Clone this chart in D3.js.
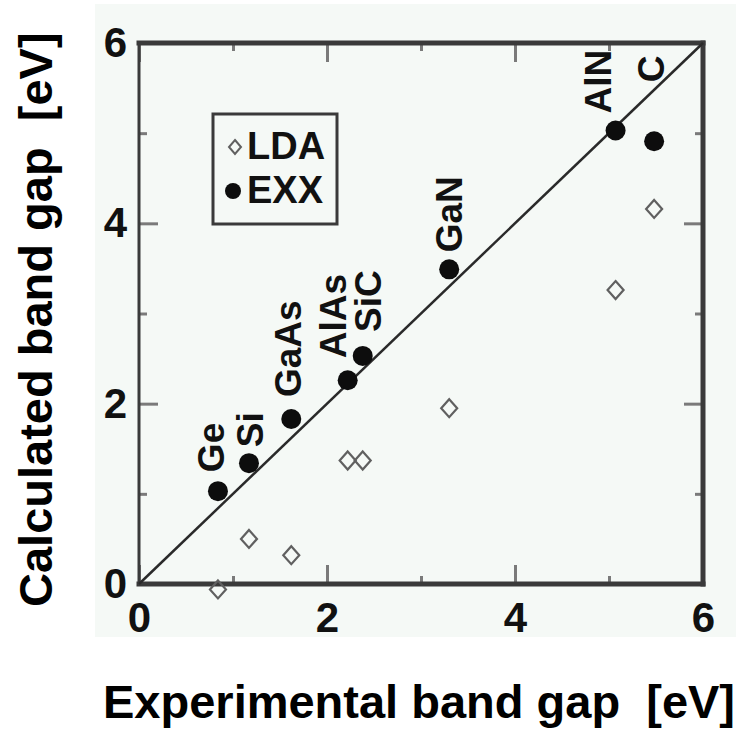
<!DOCTYPE html>
<html>
<head>
<meta charset="utf-8">
<script src="https://cdn.jsdelivr.net/npm/d3@7"></script>
<style>
  html, body { margin: 0; padding: 0; background: #fff; }
  text { font-family: "Liberation Sans", Arial, Helvetica, sans-serif; font-weight: bold; white-space: pre; }
</style>
</head>
<body>
<div id="visualization"></div>
<script>
/*************************************/
/* Data                              */
/*************************************/

const materials    = ['Ge', 'Si', 'GaAs', 'AlAs', 'SiC', 'GaN', 'AlN', 'C'];
const experimental = [0.84, 1.17, 1.62, 2.22, 2.38, 3.30, 5.07, 5.48];
const ldaGap       = [-0.06, 0.50, 0.32, 1.37, 1.37, 1.95, 3.26, 4.16];
const exxGap       = [1.03, 1.34, 1.83, 2.26, 2.53, 3.49, 5.03, 4.91];

const majorTicks = [0, 2, 4, 6];
const minorTicks = [1, 3, 5];
const legendItems = ['LDA', 'EXX'];


/*************************************/
/* Initialize variables              */
/*************************************/

const width = 736;
const height = 729;
const bg = '#f5f9f6';
const frameColor = '#3a3a3a';
const tickColor = '#7a7a7a';

// label nudges in px: [dx, gap above point]
const labelNudge = {
  Ge: [-7, 19], Si: [1, 16], GaAs: [-4, 22], AlAs: [-15, 22],
  SiC: [5, 24], GaN: [-1, 17], AlN: [-18, 17], C: [-3, 59]
};

const x = d3.scaleLinear().domain([0, 6]).range([139, 703]);
const y = d3.scaleLinear().domain([0, 6]).range([584, 43]);

// hollow diamond, a little taller than wide
const diamond = (hw, hh) => ({
  draw(ctx) {
    ctx.moveTo(0, -hh);
    ctx.lineTo(hw, 0);
    ctx.lineTo(0, hh);
    ctx.lineTo(-hw, 0);
    ctx.closePath();
  }
});

const points = materials.map((m, i) => ({
  name: m, exp: experimental[i], lda: ldaGap[i], exx: exxGap[i]
}));


/*************************************/
/* Create and append visualization   */
/*************************************/

const svg = d3.select('#visualization')
  .append('svg')
  .attr('width', width)
  .attr('height', height)
  .attr('viewBox', [0, 0, width, height]);

// plot background
svg.append('rect')
  .attr('x', 95).attr('y', 4)
  .attr('width', width - 95).attr('height', 633)
  .attr('fill', bg);

// axes: major + minor, inward ticks
const styleAxis = g => {
  g.select('.domain').remove();
  g.selectAll('.tick line').attr('stroke', tickColor).attr('stroke-width', 3);
  g.selectAll('.tick text')
    .attr('fill', '#111')
    .style('font-size', '42px');
};

const axes = [
  [d3.axisBottom(x), `translate(0,${y(0)})`, true, 18],
  [d3.axisTop(x), `translate(0,${y(6)})`, false, 0],
  [d3.axisLeft(y), `translate(${x(0)},0)`, true, 12],
  [d3.axisRight(y), `translate(${x(6)},0)`, false, 0]
];

axes.forEach(([axis, tr, labelled, pad]) => {
  svg.append('g')
    .attr('transform', tr)
    .call(axis.tickValues(majorTicks).tickSizeInner(-19).tickSizeOuter(0)
      .tickPadding(pad)
      .tickFormat(labelled ? d3.format('d') : ''))
    .call(styleAxis);

  svg.append('g')
    .attr('transform', tr)
    .call(axis.tickValues(minorTicks).tickSizeInner(-8).tickSizeOuter(0).tickFormat(''))
    .call(styleAxis);
});

// frame
const frame = svg.append('g').attr('stroke', frameColor).attr('stroke-linecap', 'square');
frame.append('line').attr('x1', x(0)).attr('x2', x(6)).attr('y1', y(0)).attr('y2', y(0)).attr('stroke-width', 5);
frame.append('line').attr('x1', x(0)).attr('x2', x(6)).attr('y1', y(6)).attr('y2', y(6)).attr('stroke-width', 5);
frame.append('line').attr('x1', x(6)).attr('x2', x(6)).attr('y1', y(0)).attr('y2', y(6)).attr('stroke-width', 5);
frame.append('line').attr('x1', x(0)).attr('x2', x(0)).attr('y1', y(0)).attr('y2', y(6)).attr('stroke-width', 3);

// diagonal y = x
svg.append('line')
  .attr('x1', x(0)).attr('y1', y(0))
  .attr('x2', x(6)).attr('y2', y(6))
  .attr('stroke', '#2a2a2a')
  .attr('stroke-width', 2.5);

// LDA diamonds
svg.append('g')
  .selectAll('path')
  .data(points)
  .join('path')
    .attr('transform', d => `translate(${x(d.exp)},${y(d.lda)})`)
    .attr('d', d3.symbol().type(diamond(8, 9))())
    .attr('fill', 'none')
    .attr('stroke', '#606060')
    .attr('stroke-width', 2.2);

// EXX dots
svg.append('g')
  .selectAll('circle')
  .data(points)
  .join('circle')
    .attr('cx', d => x(d.exp))
    .attr('cy', d => y(d.exx))
    .attr('r', 10)
    .attr('fill', '#0d0d0d');

// material labels, rotated
svg.append('g')
  .selectAll('text')
  .data(points)
  .join('text')
    .attr('transform', d => {
      const [dx, gap] = labelNudge[d.name];
      return `translate(${x(d.exp) + dx},${y(d.exx) - gap}) rotate(-90)`;
    })
    .attr('dy', '0.36em')
    .attr('fill', '#111')
    .style('font-size', '37px')
    .text(d => d.name);

// legend
const legend = svg.append('g');
legend.append('rect')
  .attr('x', 213).attr('y', 114)
  .attr('width', 124).attr('height', 110)
  .attr('fill', bg)
  .attr('stroke', frameColor)
  .attr('stroke-width', 3);

legendItems.forEach((name, i) => {
  const cy = 147 + i * 44;
  if (name === 'LDA') {
    legend.append('path')
      .attr('transform', `translate(235,${cy})`)
      .attr('d', d3.symbol().type(diamond(6, 7))())
      .attr('fill', 'none')
      .attr('stroke', '#606060')
      .attr('stroke-width', 2);
  } else {
    legend.append('circle')
      .attr('cx', 233).attr('cy', cy)
      .attr('r', 8)
      .attr('fill', '#0d0d0d');
  }
  legend.append('text')
    .attr('x', 247).attr('y', cy + 12)
    .attr('fill', '#111')
    .style('font-size', '38px')
    .text(name);
});

// axis titles
svg.append('text')
  .attr('x', 103).attr('y', 718)
  .attr('fill', '#000')
  .style('font-size', '47px')
  .text('Experimental band gap  [eV]');

svg.append('text')
  .attr('transform', 'translate(52,607) rotate(-90)')
  .attr('fill', '#000')
  .style('font-size', '47px')
  .text('Calculated band gap  [eV]');
</script>
</body>
</html>
